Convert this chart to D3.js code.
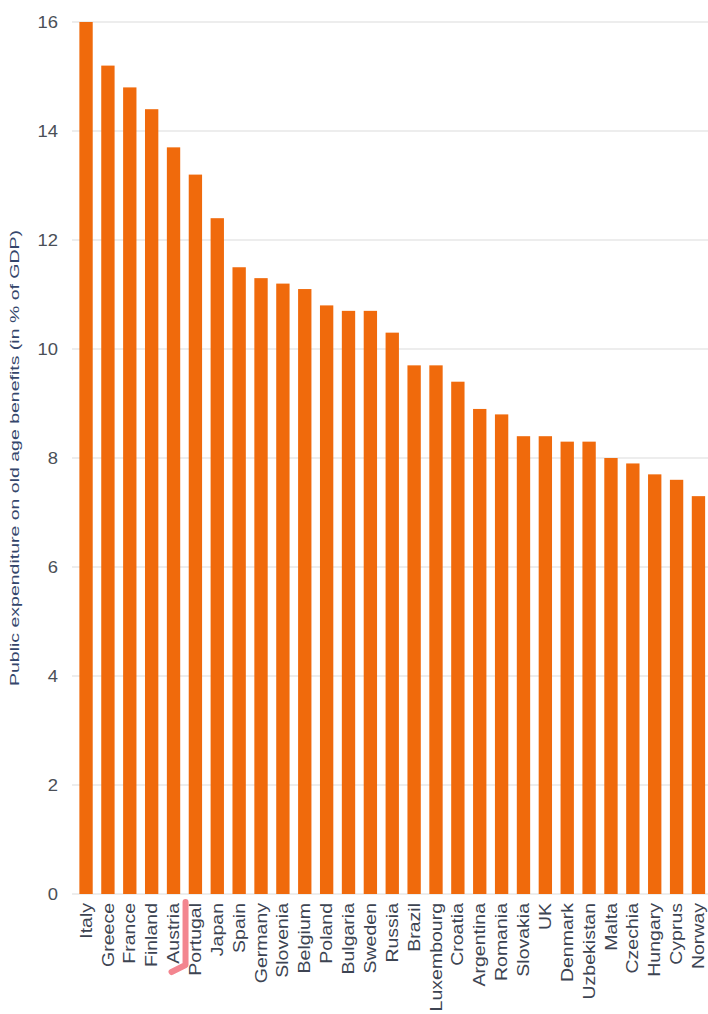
<!DOCTYPE html>
<html>
<head>
<meta charset="utf-8">
<script src="https://cdn.jsdelivr.net/npm/d3@7/dist/d3.min.js"></script>
<style>
  html, body { margin: 0; padding: 0; background: #ffffff; }
  svg { display: block; }
  text { font-family: "Liberation Sans", Arial, sans-serif; }
</style>
</head>
<body>
<svg id="chart" width="708" height="1014"></svg>
<script>
// Public expenditure on old age benefits, % of GDP
const countries = ["Italy", "Greece", "France", "Finland", "Austria", "Portugal", "Japan", "Spain",
  "Germany", "Slovenia", "Belgium", "Poland", "Bulgaria", "Sweden", "Russia", "Brazil",
  "Luxembourg", "Croatia", "Argentina", "Romania", "Slovakia", "UK", "Denmark", "Uzbekistan",
  "Malta", "Czechia", "Hungary", "Cyprus", "Norway"];
const expenditure = [16.0, 15.2, 14.8, 14.4, 13.7, 13.2, 12.4, 11.5,
  11.3, 11.2, 11.1, 10.8, 10.7, 10.7, 10.3, 9.7,
  9.7, 9.4, 8.9, 8.8, 8.4, 8.4, 8.3, 8.3,
  8.0, 7.9, 7.7, 7.6, 7.3];
const yTicks = [0, 2, 4, 6, 8, 10, 12, 14, 16];
const yTitle = "Public expenditure on old age benefits (in % of GDP)";
const marked = "Austria";

const svg = d3.select("#chart");

const y = d3.scaleLinear().domain([0, 16]).range([894, 22]);
const x = d3.scaleBand().domain(countries).range([75, 709.5])
  .paddingInner(0.39).paddingOuter(0.2);

// horizontal gridlines
svg.append("g")
  .selectAll("line")
  .data(yTicks)
  .join("line")
  .attr("x1", 72).attr("x2", 708)
  .attr("y1", d => y(d)).attr("y2", d => y(d))
  .attr("stroke", "#dcdcdc")
  .attr("stroke-width", 1.2);

// y axis tick labels (slightly widened glyphs)
const yAxis = d3.axisLeft(y).tickValues(yTicks).tickSize(0).tickPadding(0)
  .tickFormat(d3.format("d"));
const gy = svg.append("g").attr("transform", "translate(58,0)").call(yAxis);
gy.select(".domain").remove();
gy.selectAll("text")
  .attr("font-size", 16)
  .attr("fill", "#4a4f57")
  .attr("dy", "0.36em")
  .style("transform-box", "fill-box")
  .style("transform-origin", "right center")
  .style("transform", "scale(1.15,1)");

// bars
svg.append("g")
  .selectAll("rect")
  .data(countries)
  .join("rect")
  .attr("x", d => x(d))
  .attr("width", x.bandwidth())
  .attr("y", (d, i) => y(expenditure[i]))
  .attr("height", (d, i) => y(0) - y(expenditure[i]))
  .attr("fill", "#f06a0c");

// x axis category labels, rotated
const xAxis = d3.axisBottom(x).tickSize(0).tickPadding(0);
const gx = svg.append("g").attr("transform", "translate(0,903)").call(xAxis);
gx.select(".domain").remove();
gx.selectAll("text")
  .attr("font-size", 16)
  .attr("fill", "#3d4452")
  .attr("text-anchor", "end")
  .attr("y", 0)
  .attr("dy", "0.35em")
  .attr("transform", "rotate(-90) scale(1.22,1)");

// y axis title
svg.append("text")
  .attr("transform", `translate(19,${(y(0) + y(16)) / 2}) rotate(-90) scale(1.5,1)`)
  .attr("text-anchor", "middle")
  .attr("font-size", 13)
  .attr("fill", "#34466b")
  .text(yTitle);

// hand-drawn highlight stroke beside one label
const cx = x(marked) + x.bandwidth() / 2;
svg.append("path")
  .attr("d", `M${cx + 12},902 L${cx + 12},965 L${cx - 2},972`)
  .attr("fill", "none")
  .attr("stroke", "rgba(238,86,100,0.72)")
  .attr("stroke-width", 6)
  .attr("stroke-linecap", "round")
  .attr("stroke-linejoin", "round");
</script>
</body>
</html>
